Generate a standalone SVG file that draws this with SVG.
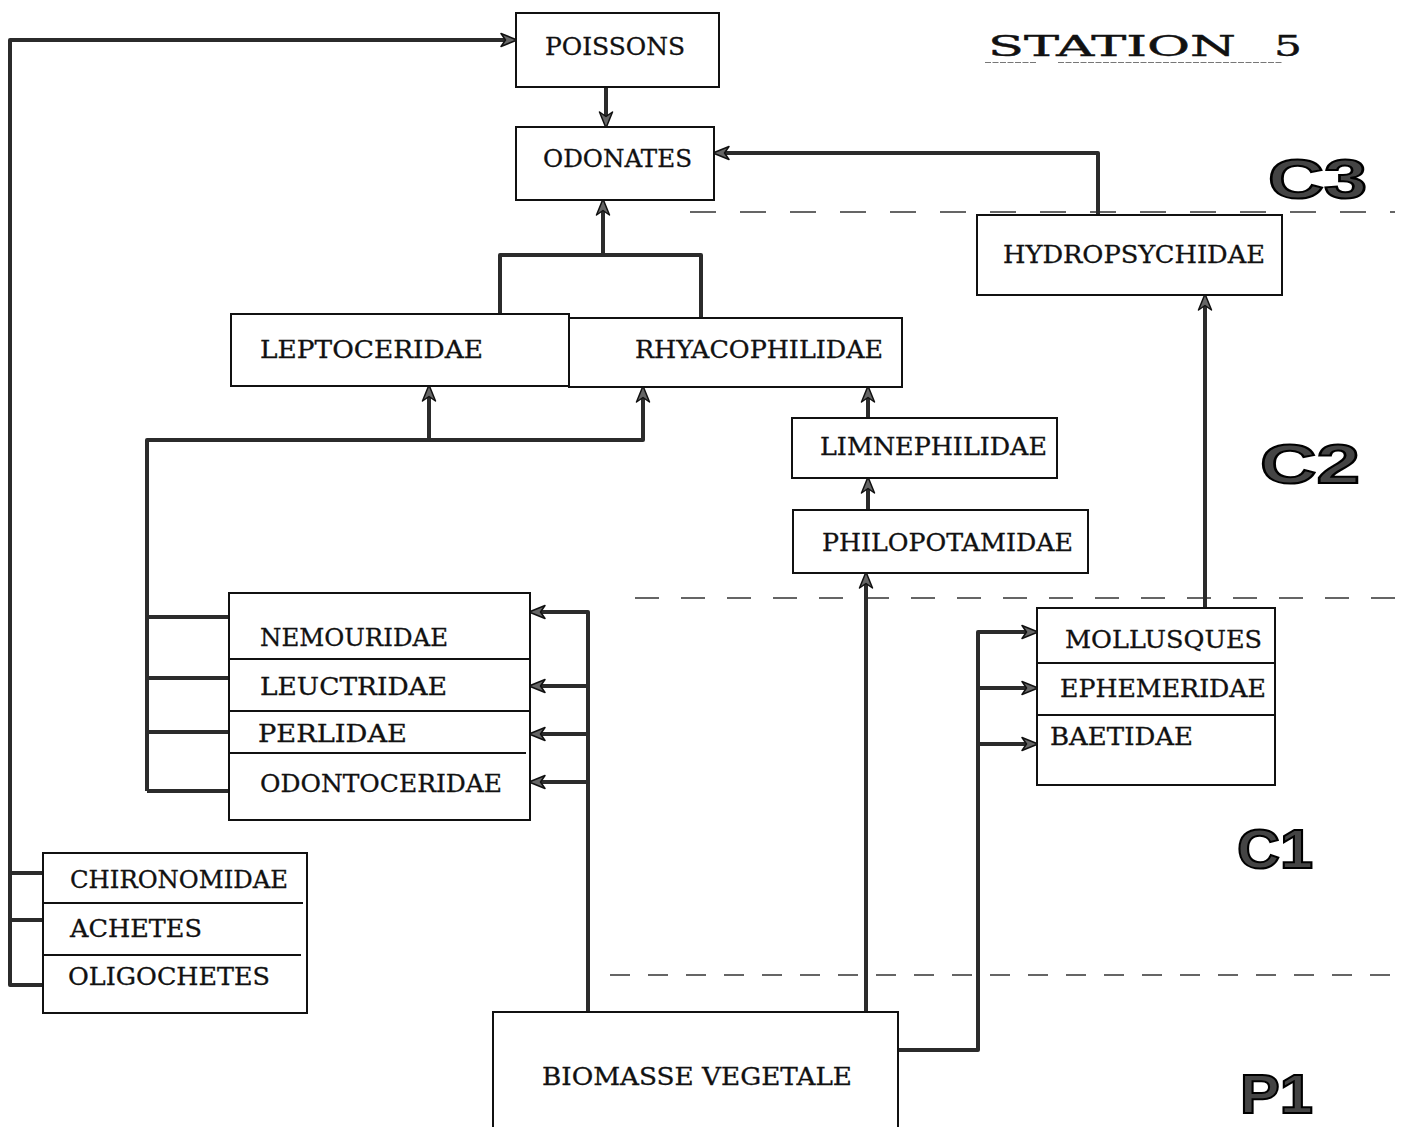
<svg xmlns="http://www.w3.org/2000/svg" width="1410" height="1127" viewBox="0 0 1410 1127">
  <defs>
    <style>
      .box { fill: #fff; stroke: #111; stroke-width: 2; }
      .div { stroke: #111; stroke-width: 1.8; fill: none; }
      .lbl { font-family: "DejaVu Serif", "Liberation Serif", serif; font-size: 24px; fill: #111; stroke: #111; stroke-width: 0.3; }
      .wire { fill: none; stroke: #2b2b2b; stroke-width: 4; stroke-linejoin: round; }
      .arr { marker-end: url(#head); }
      .zone { fill: none; stroke: #333; stroke-width: 1.6; }
      .lvl { font-family: "Liberation Sans", Arial, sans-serif; font-weight: bold; font-size: 56px; fill: #444; stroke: #000; stroke-width: 2; }
      .ttl { font-family: "DejaVu Serif", "Liberation Serif", serif; font-size: 27px; fill: #111; stroke: #111; stroke-width: 0.4; }
    </style>
    <marker id="head" markerUnits="userSpaceOnUse" markerWidth="18" markerHeight="16" viewBox="0 0 18 16" refX="8" refY="8" orient="auto">
      <path d="M1,1.5 L17,8 L1,14.5 L5.5,8 Z" fill="#666" stroke="#111" stroke-width="1.5" stroke-linejoin="round"/>
    </marker>
  </defs>

  <rect width="1410" height="1127" fill="#fff"/>

  <!-- title -->
  <g id="title">
    <text class="ttl" x="988" y="56" textLength="248" lengthAdjust="spacingAndGlyphs">STATION</text>
    <text class="ttl" x="1274" y="56" textLength="28" lengthAdjust="spacingAndGlyphs">5</text>
    <path d="M985,62.5 H1037 M1058,62.5 H1282" stroke="#777" stroke-width="1.2" stroke-dasharray="6 1.5" fill="none"/>
  </g>

  <!-- trophic level separators -->
  <g id="levels">
    <path class="zone" d="M690,212 H1395" stroke-dasharray="26 24"/>
    <path class="zone" d="M635,598 H1410" stroke-dasharray="24 22"/>
    <path class="zone" d="M610,975 H1400" stroke-dasharray="20 18"/>
    <text class="lvl" x="1268" y="198" textLength="99" lengthAdjust="spacingAndGlyphs">C3</text>
    <text class="lvl" x="1260" y="483" textLength="100" lengthAdjust="spacingAndGlyphs">C2</text>
    <text class="lvl" x="1237" y="868" textLength="76" lengthAdjust="spacingAndGlyphs">C1</text>
    <text class="lvl" x="1240" y="1113" textLength="73" lengthAdjust="spacingAndGlyphs">P1</text>
  </g>

  <!-- connectors -->
  <g id="connectors">
    <!-- benthic feeders back to fish -->
    <path class="wire arr" d="M43,985 H10 V40 H508"/>
    <path class="wire" d="M43,873 H10 M43,920 H10"/>
    <!-- fish to odonates -->
    <path class="wire arr" d="M606,87 V119"/>
    <!-- hydropsychidae to odonates -->
    <path class="wire arr" d="M1098,215 V153 H722"/>
    <!-- caddis pair to odonates -->
    <path class="wire" d="M500,313 V255 H701 V318"/>
    <path class="wire arr" d="M603,255 V208"/>
    <!-- stoneflies to caddis pair -->
    <path class="wire arr" d="M147,791 V440 H643 V395"/>
    <path class="wire arr" d="M429,440 V394"/>
    <path class="wire" d="M229,617 H147 M229,678 H147 M229,732 H147 M229,791 H147"/>
    <!-- plant biomass to stoneflies -->
    <path class="wire arr" d="M588,1012 V612 H538"/>
    <path class="wire arr" d="M588,686 H538"/>
    <path class="wire arr" d="M588,734 H538"/>
    <path class="wire arr" d="M588,782 H538"/>
    <!-- plant biomass to philopotamidae, then up the chain -->
    <path class="wire arr" d="M866,1012 V581"/>
    <path class="wire arr" d="M868,510 V486"/>
    <path class="wire arr" d="M868,418 V395"/>
    <!-- plant biomass to molluscs / mayflies -->
    <path class="wire arr" d="M898,1050 H978 V632 H1029"/>
    <path class="wire arr" d="M978,688 H1029"/>
    <path class="wire arr" d="M978,744 H1029"/>
    <!-- molluscs group to hydropsychidae -->
    <path class="wire arr" d="M1205,608 V303"/>
  </g>

  <g id="poissons">
    <rect class="box" x="516" y="13" width="203" height="74"/>
    <text class="lbl" x="545" y="55" textLength="140" lengthAdjust="spacingAndGlyphs">POISSONS</text>
  </g>

  <g id="odonates">
    <rect class="box" x="516" y="127" width="198" height="73"/>
    <text class="lbl" x="543" y="167" textLength="149" lengthAdjust="spacingAndGlyphs">ODONATES</text>
  </g>

  <g id="hydropsychidae">
    <rect class="box" x="977" y="215" width="305" height="80"/>
    <text class="lbl" x="1003" y="263" textLength="262" lengthAdjust="spacingAndGlyphs">HYDROPSYCHIDAE</text>
  </g>

  <g id="leptoceridae">
    <rect class="box" x="231" y="314" width="338" height="72"/>
    <text class="lbl" x="260" y="358" textLength="223" lengthAdjust="spacingAndGlyphs">LEPTOCERIDAE</text>
  </g>

  <g id="rhyacophilidae">
    <rect class="box" x="569" y="318" width="333" height="69"/>
    <text class="lbl" x="635" y="358" textLength="248" lengthAdjust="spacingAndGlyphs">RHYACOPHILIDAE</text>
  </g>

  <g id="limnephilidae">
    <rect class="box" x="792" y="418" width="265" height="60"/>
    <text class="lbl" x="820" y="455" textLength="227" lengthAdjust="spacingAndGlyphs">LIMNEPHILIDAE</text>
  </g>

  <g id="philopotamidae">
    <rect class="box" x="793" y="510" width="295" height="63"/>
    <text class="lbl" x="822" y="551" textLength="251" lengthAdjust="spacingAndGlyphs">PHILOPOTAMIDAE</text>
  </g>

  <g id="plecopteres">
    <rect class="box" x="229" y="593" width="301" height="227"/>
    <path class="div" d="M229,659 H530 M229,711 H530 M229,753 H526"/>
    <text class="lbl" x="260" y="646" textLength="188" lengthAdjust="spacingAndGlyphs">NEMOURIDAE</text>
    <text class="lbl" x="260" y="695" textLength="187" lengthAdjust="spacingAndGlyphs">LEUCTRIDAE</text>
    <text class="lbl" x="258" y="742" textLength="149" lengthAdjust="spacingAndGlyphs">PERLIDAE</text>
    <text class="lbl" x="260" y="792" textLength="242" lengthAdjust="spacingAndGlyphs">ODONTOCERIDAE</text>
  </g>

  <g id="mollusques">
    <rect class="box" x="1037" y="608" width="238" height="177"/>
    <path class="div" d="M1037,663 H1275 M1037,715 H1275"/>
    <text class="lbl" x="1065" y="648" textLength="197" lengthAdjust="spacingAndGlyphs">MOLLUSQUES</text>
    <text class="lbl" x="1060" y="697" textLength="206" lengthAdjust="spacingAndGlyphs">EPHEMERIDAE</text>
    <text class="lbl" x="1050" y="745" textLength="143" lengthAdjust="spacingAndGlyphs">BAETIDAE</text>
  </g>

  <g id="chironomidae">
    <rect class="box" x="43" y="853" width="264" height="160"/>
    <path class="div" d="M43,903 H303 M43,955 H301"/>
    <text class="lbl" x="70" y="888" textLength="218" lengthAdjust="spacingAndGlyphs">CHIRONOMIDAE</text>
    <text class="lbl" x="70" y="937" textLength="132" lengthAdjust="spacingAndGlyphs">ACHETES</text>
    <text class="lbl" x="68" y="985" textLength="202" lengthAdjust="spacingAndGlyphs">OLIGOCHETES</text>
  </g>

  <g id="biomasse">
    <rect class="box" x="493" y="1012" width="405" height="130"/>
    <text class="lbl" x="542" y="1085" textLength="310" lengthAdjust="spacingAndGlyphs">BIOMASSE VEGETALE</text>
  </g>
</svg>
